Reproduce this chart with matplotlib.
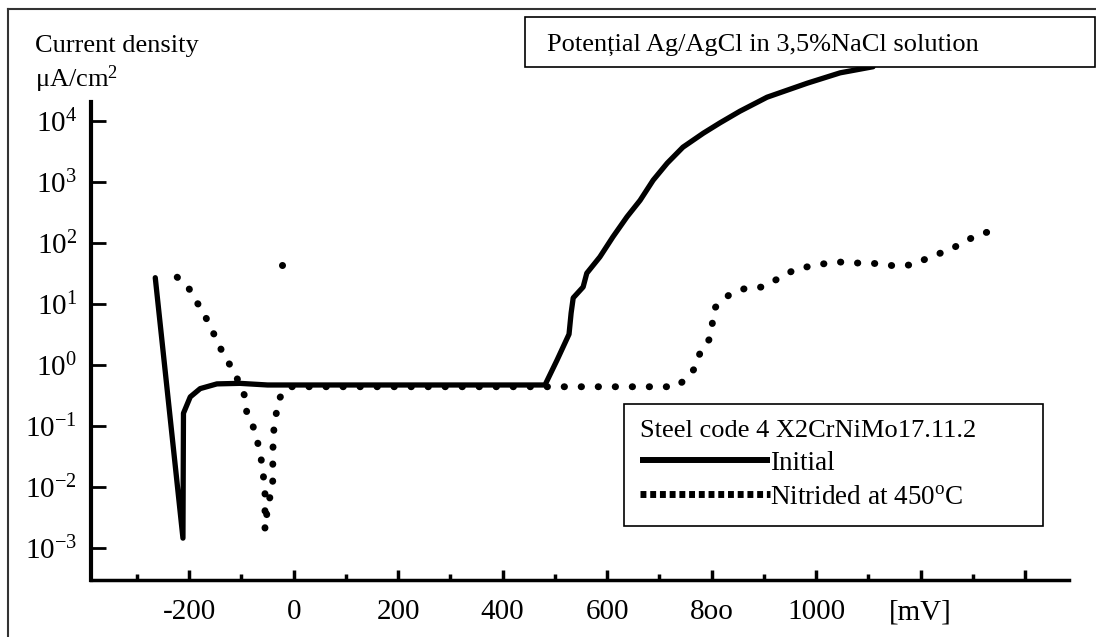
import matplotlib.pyplot as plt
from matplotlib.lines import Line2D
from matplotlib.patches import Rectangle
from matplotlib.ticker import NullLocator
import numpy as np

plt.rcParams['font.family'] = ['Liberation Serif', 'DejaVu Serif']
plt.rcParams['mathtext.fontset'] = 'custom'
plt.rcParams['mathtext.rm'] = 'Liberation Serif'
plt.rcParams['mathtext.it'] = 'Liberation Serif:italic'
plt.rcParams['mathtext.bf'] = 'Liberation Serif:bold'

# potential (mV vs Ag/AgCl) and current density (uA/cm2)
initial_mv = [-265, -212, -211, -198, -179, -147, -103, -50, 481, 504, 527, 531,
              535, 554, 561, 586, 611, 638, 663, 688, 715, 745, 784, 816, 854,
              906, 983, 1046, 1109]
initial_j = [27, 0.00145, 0.162, 0.30, 0.41, 0.49, 0.50, 0.47, 0.47, 1.2, 3.2, 7.1,
             12.6, 19, 32, 59, 126, 269, 500, 1070, 2040, 3720, 6310, 9330, 14450,
             24550, 41690, 61660, 77620]

nitrided_mv = [-223, -202, -189, -174, -164, -151, -139, -124, -109, -93, -90, -78,
               -70, -63, -59, -57, -55, -55, -55, -49, -42, -40, -40, -40, -38, -38,
               -32, -28, -11, 732, 751, 768, 778, 795, 801, 805, 833, 864, 897, 931,
               960, 1002, 1040, 1078, 1117, 1151, 1186, 1218, 1258, 1289, 1320, 1354]
nitrided_j = [27.5, 19, 11.7, 7.8, 5.0, 3.0, 1.8, 1.07, 0.62, 0.30, 0.17, 0.10,
              0.059, 0.031, 0.019, 0.012, 0.0079, 0.0050, 0.0020, 0.0055, 0.0083,
              0.013, 0.021, 0.041, 0.066, 0.11, 0.18, 0.28, 0.44, 0.44, 0.59, 0.89,
              1.6, 2.6, 4.6, 8.5, 14, 18, 19, 27, 37, 44, 49, 47, 46, 42, 44, 59, 79,
              112, 145, 170]

stray_mv = [-22]
stray_j = [44]

y_ticks = [1e-3, 1e-2, 1e-1, 1e0, 1e1, 1e2, 1e3, 1e4]
y_tick_labels = [r'$\mathregular{10^{-3}}$', r'$\mathregular{10^{-2}}$',
                 r'$\mathregular{10^{-1}}$', r'$\mathregular{10^{0}}$',
                 r'$\mathregular{10^{1}}$', r'$\mathregular{10^{2}}$',
                 r'$\mathregular{10^{3}}$', r'$\mathregular{10^{4}}$']
x_ticks = [-200, 0, 200, 400, 600, 800, 1000, 1200, 1400]
x_tick_labels = ['-200', '0', '200', '400', '600', '8oo', '1000', '[mV]', '']
x_minor = np.arange(-300, 1500, 100)

W, H = 1096, 637
fig = plt.figure(figsize=(W / 100, H / 100), dpi=100)

ax = fig.add_axes([91 / W, 1 - 580 / H, (1069 - 91) / W, (580 - 20) / H])
ax.set_yscale('log')
ax.set_xlim(-388, 1484)
ax.set_ylim(10 ** -3.525, 10 ** 5.656)

ax.plot(initial_mv, initial_j, color='black', lw=3.8, solid_joinstyle='round',
        solid_capstyle='round', label='Initial')
ax.plot(nitrided_mv, nitrided_j, color='black', lw=5, linestyle=(0, (0.05, 2.4)),
        dash_capstyle='round', label='Nitrided at 450C')
ax.plot(stray_mv, stray_j, 'o', color='black', ms=4)

ax.set_yticks(y_ticks, y_tick_labels)
ax.yaxis.set_minor_locator(NullLocator())
ax.set_xticks(x_ticks, x_tick_labels)
ax.set_xticks(x_minor, minor=True)
ax.tick_params(axis='x', which='major', direction='in', length=7, width=2.5,
               pad=14, labelsize=21)
ax.tick_params(axis='x', which='minor', direction='in', length=4, width=2.5)
ax.tick_params(axis='y', which='major', direction='in', length=11, width=2,
               pad=10, labelsize=21)

for s in ['top', 'right']:
    ax.spines[s].set_visible(False)
ax.spines['left'].set_linewidth(3)
ax.spines['left'].set_bounds(10 ** -3.525, 10 ** 4.31)
ax.spines['bottom'].set_linewidth(2.5)

# axis caption top-left
fig.text(35 / W, 1 - 52 / H, 'Current density', fontsize=19, va='baseline')
fig.text(35 / W, 1 - 87 / H, r'μA/cm$\mathregular{^{2}}$', fontsize=19, va='baseline')

# boxed heading
fig.add_artist(Rectangle((525 / W, 1 - 67 / H), 570 / W, 50 / H,
                         transform=fig.transFigure, facecolor='white',
                         edgecolor='black', lw=1.2, zorder=5))
fig.text(547 / W, 1 - 51 / H, 'Potențial Ag/AgCl in 3,5%NaCl solution',
         fontsize=19, va='baseline', zorder=6)

# outer frame
fig.add_artist(Line2D([8 / W, 8 / W], [0, 1 - 9 / H], color='#333333', lw=1.5))
fig.add_artist(Line2D([8 / W, 1], [1 - 9 / H, 1 - 9 / H], color='#333333', lw=1.5))

handles = [Line2D([], [], color='black', lw=4.3, solid_capstyle='butt'),
           Line2D([], [], color='black', lw=5, linestyle=(0, (0.85, 0.55)),
                  dash_capstyle='butt')]
leg = ax.legend(handles, ['Initial', r'Nitrided at 450$\mathregular{^{o}}$C'],
                title='Steel code 4 X2CrNiMo17.11.2', loc='upper left',
                bbox_to_anchor=(624 / W, 1 - 524 / H, 419 / W, 120 / H),
                bbox_transform=fig.transFigure, mode='expand', fancybox=False,
                framealpha=1, edgecolor='black', fontsize=19.5, title_fontsize=19,
                handlelength=4.8, handletextpad=0, borderpad=0.6,
                labelspacing=0.32, alignment='left', borderaxespad=0)
leg.get_frame().set_linewidth(1.2)

fig.savefig('out.png', dpi=100)
